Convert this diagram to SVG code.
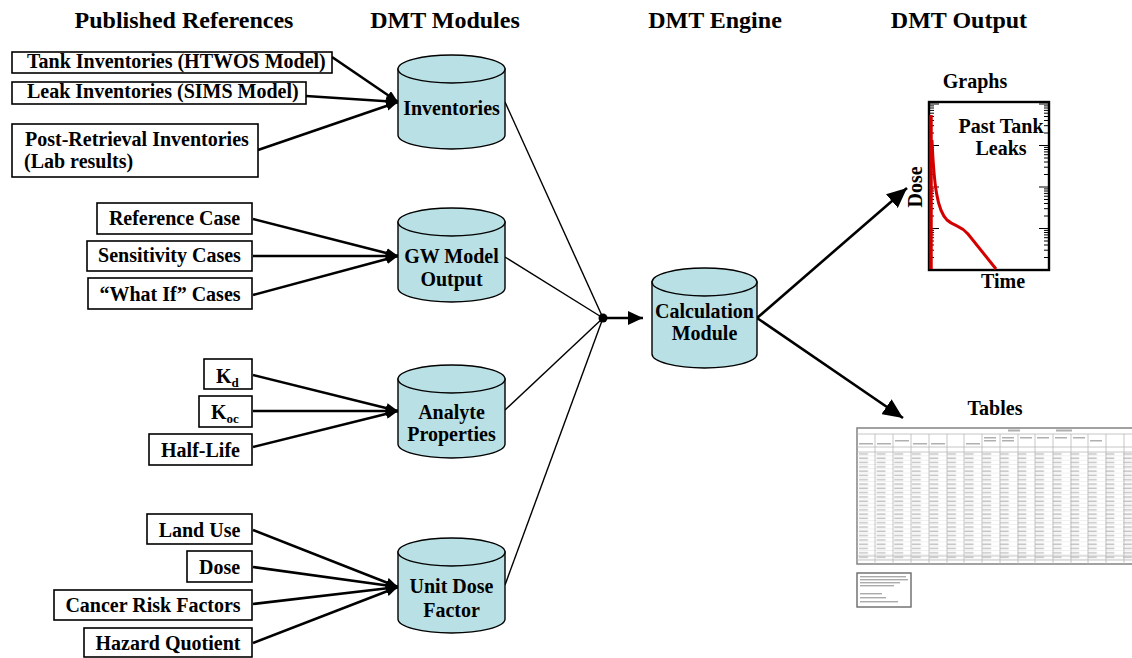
<svg xmlns="http://www.w3.org/2000/svg" width="1132" height="658" viewBox="0 0 1132 658">
  <style>
    .hd { font-family: "Liberation Serif", "Times New Roman", serif; font-weight: bold; font-size: 24px; fill: #000; text-anchor: middle; }
    .lb { font-family: "Liberation Serif", "Times New Roman", serif; font-weight: bold; font-size: 20px; fill: #000; }
    .c { text-anchor: middle; }
    .box { fill: #fff; stroke: #000; stroke-width: 1.6; }
    .cyl { fill: #b9e0e4; stroke: #000; stroke-width: 1.4; }
    .in { stroke: #000; stroke-width: 2.6; fill: none; marker-end: url(#ah); }
    .out { stroke: #000; stroke-width: 1.4; fill: none; }
    .big { stroke: #000; stroke-width: 2.6; fill: none; marker-end: url(#ahBig); }
    .tick { stroke: #000; stroke-width: 1; }
    .grid { stroke: #b8b8b8; stroke-width: 0.8; }
  </style>
  <defs>
    <marker id="ah" viewBox="0 0 12 10" refX="12" refY="5" markerWidth="12" markerHeight="10" markerUnits="userSpaceOnUse" orient="auto">
      <path d="M0 0 L12 5 L0 10 Z" fill="#000"/>
    </marker>
    <marker id="ahMid" viewBox="0 0 15 14" refX="15" refY="7" markerWidth="15" markerHeight="14" markerUnits="userSpaceOnUse" orient="auto">
      <path d="M0 0 L15 7 L0 14 Z" fill="#000"/>
    </marker>
    <marker id="ahBig" viewBox="0 0 20 18" refX="20" refY="9" markerWidth="20" markerHeight="18" markerUnits="userSpaceOnUse" orient="auto">
      <path d="M0 0 L20 9 L0 18 Z" fill="#000"/>
    </marker>
    <pattern id="rows" x="857" y="452" width="17.6" height="4.3" patternUnits="userSpaceOnUse">
      <rect x="2" y="1.2" width="9" height="1.5" fill="#c4c4c4"/>
      <line x1="0" y1="4.2" x2="17.6" y2="4.2" stroke="#d4d4d4" stroke-width="0.6"/>
    </pattern>
    <filter id="soft" x="-2%" y="-2%" width="104%" height="104%">
      <feGaussianBlur stdDeviation="0.45"/>
    </filter>
  </defs>

  <!-- column headings -->
  <g id="headings">
    <text class="hd" x="184" y="28">Published References</text>
    <text class="hd" x="445" y="28">DMT Modules</text>
    <text class="hd" x="715" y="28">DMT Engine</text>
    <text class="hd" x="959" y="28">DMT Output</text>
  </g>

  <!-- connectors -->
  <g id="connectors">
    <!-- references into modules -->
    <line class="in" x1="332" y1="57" x2="398" y2="102"/>
    <line class="in" x1="306" y1="96" x2="398" y2="102"/>
    <line class="in" x1="258" y1="150" x2="398" y2="102"/>

    <line class="in" x1="253" y1="219" x2="398" y2="256"/>
    <line class="in" x1="253" y1="256" x2="398" y2="256"/>
    <line class="in" x1="253" y1="295" x2="398" y2="256"/>

    <line class="in" x1="253" y1="375" x2="398" y2="411"/>
    <line class="in" x1="253" y1="411" x2="398" y2="411"/>
    <line class="in" x1="253" y1="447" x2="398" y2="411"/>

    <line class="in" x1="253" y1="530" x2="398" y2="587"/>
    <line class="in" x1="253" y1="567" x2="398" y2="587"/>
    <line class="in" x1="253" y1="604" x2="398" y2="587"/>
    <line class="in" x1="253" y1="643" x2="398" y2="587"/>

    <!-- modules into the junction -->
    <line class="out" x1="505" y1="102" x2="603" y2="318"/>
    <line class="out" x1="505" y1="257" x2="603" y2="318"/>
    <line class="out" x1="505" y1="410" x2="603" y2="318"/>
    <line class="out" x1="505" y1="585" x2="603" y2="318"/>
    <circle cx="603" cy="318" r="4.5" fill="#000"/>
    <line x1="603" y1="318" x2="643" y2="318" stroke="#000" stroke-width="2.6" marker-end="url(#ahMid)"/>

    <!-- engine to outputs -->
    <line class="big" x1="757" y1="318" x2="907" y2="188"/>
    <line class="big" x1="757" y1="318" x2="903" y2="418"/>
  </g>

  <!-- published reference boxes -->
  <g id="ref-tank">
    <rect class="box" x="12" y="52" width="320" height="21"/>
    <text class="lb" x="27" y="68">Tank Inventories (HTWOS Model)</text>
  </g>
  <g id="ref-leak">
    <rect class="box" x="12" y="82" width="294" height="22"/>
    <text class="lb" x="27" y="98">Leak Inventories (SIMS Model)</text>
  </g>
  <g id="ref-post">
    <rect class="box" x="12" y="124" width="246" height="53"/>
    <text class="lb" x="25" y="146">Post-Retrieval Inventories</text>
    <text class="lb" x="24" y="168">(Lab results)</text>
  </g>

  <g id="ref-reference-case">
    <rect class="box" x="97" y="203" width="155" height="31"/>
    <text class="lb c" x="174.5" y="225">Reference Case</text>
  </g>
  <g id="ref-sensitivity">
    <rect class="box" x="87" y="241" width="165" height="30"/>
    <text class="lb c" x="169.5" y="262">Sensitivity Cases</text>
  </g>
  <g id="ref-whatif">
    <rect class="box" x="88" y="278" width="164" height="31"/>
    <text class="lb c" x="170" y="301">“What If” Cases</text>
  </g>

  <g id="ref-kd">
    <rect class="box" x="204" y="359" width="48" height="30"/>
    <text class="lb" x="216" y="383">K<tspan font-size="13" dy="4">d</tspan></text>
  </g>
  <g id="ref-koc">
    <rect class="box" x="199" y="396" width="53" height="31"/>
    <text class="lb" x="211" y="419">K<tspan font-size="13" dy="4">oc</tspan></text>
  </g>
  <g id="ref-halflife">
    <rect class="box" x="149" y="434" width="103" height="31"/>
    <text class="lb c" x="200.5" y="457">Half-Life</text>
  </g>

  <g id="ref-landuse">
    <rect class="box" x="147" y="514" width="105" height="30"/>
    <text class="lb c" x="199.5" y="537">Land Use</text>
  </g>
  <g id="ref-dose">
    <rect class="box" x="187" y="551" width="65" height="31"/>
    <text class="lb c" x="219.5" y="574">Dose</text>
  </g>
  <g id="ref-cancer">
    <rect class="box" x="54" y="590" width="198" height="30"/>
    <text class="lb c" x="153" y="612">Cancer Risk Factors</text>
  </g>
  <g id="ref-hazard">
    <rect class="box" x="84" y="628" width="168" height="29"/>
    <text class="lb c" x="168" y="650">Hazard Quotient</text>
  </g>

  <!-- DMT modules (cylinders) -->
  <g id="mod-inventories">
    <path class="cyl" d="M398 69 V135 A53.5 14 0 0 0 505 135 V69 Z"/>
    <ellipse class="cyl" cx="451.5" cy="69" rx="53.5" ry="14"/>
    <text class="lb c" x="451.5" y="115">Inventories</text>
  </g>
  <g id="mod-gw">
    <path class="cyl" d="M398 222 V288 A53.5 14 0 0 0 505 288 V222 Z"/>
    <ellipse class="cyl" cx="451.5" cy="222" rx="53.5" ry="14"/>
    <text class="lb c" x="451.5" y="263">GW Model</text>
    <text class="lb c" x="451.5" y="286">Output</text>
  </g>
  <g id="mod-analyte">
    <path class="cyl" d="M398 379 V444 A53.5 14 0 0 0 505 444 V379 Z"/>
    <ellipse class="cyl" cx="451.5" cy="379" rx="53.5" ry="14"/>
    <text class="lb c" x="451.5" y="419">Analyte</text>
    <text class="lb c" x="451.5" y="441">Properties</text>
  </g>
  <g id="mod-unitdose">
    <path class="cyl" d="M398 552 V619 A53.5 14 0 0 0 505 619 V552 Z"/>
    <ellipse class="cyl" cx="451.5" cy="552" rx="53.5" ry="14"/>
    <text class="lb c" x="451.5" y="593">Unit Dose</text>
    <text class="lb c" x="451.5" y="617">Factor</text>
  </g>

  <!-- DMT engine -->
  <g id="engine-calc">
    <path class="cyl" d="M652 282 V354 A52.5 14 0 0 0 757 354 V282 Z"/>
    <ellipse class="cyl" cx="704.5" cy="282" rx="52.5" ry="14"/>
    <text class="lb c" x="704.5" y="318">Calculation</text>
    <text class="lb c" x="704.5" y="340">Module</text>
  </g>

  <!-- graph output -->
  <g id="out-graphs">
    <text class="lb c" x="975" y="88" font-size="18">Graphs</text>
    <rect x="929" y="102" width="120" height="168" fill="#fff" stroke="#000" stroke-width="2.4"/>
    <g class="tick">
      <!-- log-scale ticks, left axis -->
      <path d="M929 104 H939 M929 145.5 H939 M929 187 H939 M929 228.5 H939
               M929 105.9 H934 M929 108 H934 M929 110.4 H934 M929 113.2 H934 M929 116.5 H934 M929 120.5 H934 M929 125.7 H934 M929 133 H934
               M929 147.4 H934 M929 149.5 H934 M929 151.9 H934 M929 154.7 H934 M929 158 H934 M929 162 H934 M929 167.2 H934 M929 174.5 H934
               M929 188.9 H934 M929 191 H934 M929 193.4 H934 M929 196.2 H934 M929 199.5 H934 M929 203.5 H934 M929 208.7 H934 M929 216 H934
               M929 230.4 H934 M929 232.5 H934 M929 234.9 H934 M929 237.7 H934 M929 241 H934 M929 245 H934 M929 250.2 H934 M929 257.5 H934"/>
      <!-- right axis -->
      <path d="M1049 104 H1039 M1049 145.5 H1039 M1049 187 H1039 M1049 228.5 H1039
               M1049 105.9 H1044 M1049 108 H1044 M1049 110.4 H1044 M1049 113.2 H1044 M1049 116.5 H1044 M1049 120.5 H1044 M1049 125.7 H1044 M1049 133 H1044
               M1049 147.4 H1044 M1049 149.5 H1044 M1049 151.9 H1044 M1049 154.7 H1044 M1049 158 H1044 M1049 162 H1044 M1049 167.2 H1044 M1049 174.5 H1044
               M1049 188.9 H1044 M1049 191 H1044 M1049 193.4 H1044 M1049 196.2 H1044 M1049 199.5 H1044 M1049 203.5 H1044 M1049 208.7 H1044 M1049 216 H1044
               M1049 230.4 H1044 M1049 232.5 H1044 M1049 234.9 H1044 M1049 237.7 H1044 M1049 241 H1044 M1049 245 H1044 M1049 250.2 H1044 M1049 257.5 H1044"/>
    </g>
    <!-- dose curve -->
    <line x1="931" y1="115" x2="931" y2="269" stroke="#d40000" stroke-width="3.5"/>
    <path d="M932 140 C934 185 937 210 947 220 C955 227 960 225 968 234 L996 269" fill="none" stroke="#d40000" stroke-width="3"/>
    <text class="lb c" x="1001" y="133">Past Tank</text>
    <text class="lb c" x="1001" y="155">Leaks</text>
    <text class="lb c" font-size="19" transform="translate(922 187) rotate(-90)">Dose</text>
    <text class="lb c" x="1003" y="288" font-size="18">Time</text>
  </g>

  <!-- table output -->
  <g id="out-tables">
    <text class="lb c" x="995" y="415" font-size="19">Tables</text>
    <g filter="url(#soft)">
      <rect x="857" y="428" width="280" height="136" fill="#fff" stroke="#8a8a8a" stroke-width="1.6"/>
      <rect x="857" y="452" width="275" height="108" fill="url(#rows)"/>
      <g class="grid">
        <line x1="857" y1="434" x2="1132" y2="434"/>
        <line x1="857" y1="447" x2="1132" y2="447"/>
        <line x1="857" y1="452" x2="1132" y2="452"/>
        <line x1="857" y1="556" x2="1132" y2="556"/>
        <line x1="857" y1="560" x2="1132" y2="560"/>
        <line x1="875" y1="434" x2="875" y2="564"/>
        <line x1="893" y1="434" x2="893" y2="564"/>
        <line x1="911" y1="434" x2="911" y2="564"/>
        <line x1="929" y1="434" x2="929" y2="564"/>
        <line x1="947" y1="434" x2="947" y2="564"/>
        <line x1="964" y1="434" x2="964" y2="564"/>
        <line x1="982" y1="434" x2="982" y2="564"/>
        <line x1="1000" y1="434" x2="1000" y2="564"/>
        <line x1="1018" y1="434" x2="1018" y2="564"/>
        <line x1="1035" y1="434" x2="1035" y2="564"/>
        <line x1="1053" y1="434" x2="1053" y2="564"/>
        <line x1="1071" y1="434" x2="1071" y2="564"/>
        <line x1="1088" y1="434" x2="1088" y2="564"/>
        <line x1="1106" y1="434" x2="1106" y2="564"/>
        <line x1="1124" y1="434" x2="1124" y2="564"/>
      </g>
      <g fill="#b0b0b0">
        <rect x="1008" y="429.5" width="12" height="2"/>
        <rect x="1056" y="429.5" width="16" height="2"/>
        <rect x="984" y="437" width="12" height="1.5"/>
        <rect x="984" y="440" width="12" height="1.5"/>
        <rect x="1002" y="437" width="12" height="1.5"/>
        <rect x="1002" y="440" width="12" height="1.5"/>
        <rect x="1020" y="437" width="12" height="1.5"/>
        <rect x="1037" y="437" width="12" height="1.5"/>
        <rect x="1055" y="437" width="12" height="1.5"/>
        <rect x="1073" y="437" width="12" height="1.5"/>
        <rect x="1090" y="440" width="12" height="1.5"/>
        <rect x="859" y="443" width="14" height="1.5"/>
        <rect x="877" y="443" width="14" height="1.5"/>
        <rect x="895" y="440" width="14" height="1.5"/>
        <rect x="913" y="443" width="14" height="1.5"/>
        <rect x="931" y="443" width="14" height="1.5"/>
        <rect x="966" y="443" width="14" height="1.5"/>
      </g>
      <rect x="857" y="573" width="54" height="34" fill="#fff" stroke="#6a6a6a" stroke-width="1.4"/>
      <g fill="#aaaaaa">
        <rect x="860" y="576" width="46" height="1.4"/>
        <rect x="860" y="579" width="48" height="1.4"/>
        <rect x="860" y="582" width="40" height="1.4"/>
        <rect x="860" y="585" width="34" height="1.4"/>
        <rect x="860" y="593" width="22" height="1.4"/>
        <rect x="860" y="597" width="26" height="1.4"/>
        <rect x="860" y="601" width="38" height="1.4"/>
      </g>
    </g>
  </g>
</svg>
